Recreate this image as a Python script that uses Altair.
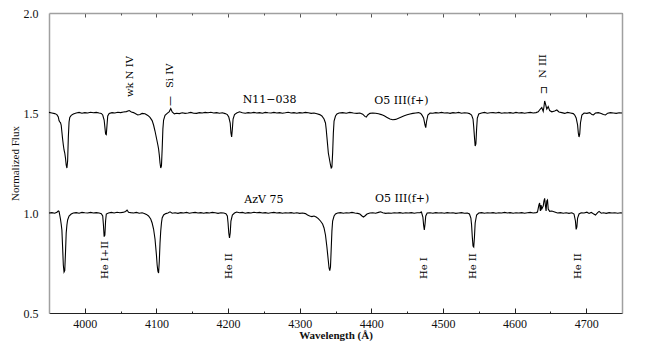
import altair as alt
import pandas as pd

# ---- N11-038 spectrum (offset continuum 1.5) ----
top_wl = [3950, 3954, 3958, 3961, 3963, 3964, 3965, 3966, 3967, 3968, 3969, 3970, 3971, 3972, 3973, 3974, 3975, 3976, 3977, 3978, 3979, 3981, 3984, 3988, 3992, 3996,
          4000, 4004, 4008, 4012, 4016, 4020, 4023, 4025, 4027, 4028, 4029, 4030, 4031, 4032, 4034, 4038, 4042, 4046, 4050, 4054, 4058, 4062, 4065, 4068, 4071, 4074, 4077, 4080, 4084, 4088, 4091, 4094, 4096, 4098,
          4100, 4102, 4103, 4104, 4105, 4106, 4107, 4108, 4109, 4110, 4112, 4115, 4118, 4120, 4122, 4125, 4128, 4132, 4136, 4140, 4144, 4148, 4152, 4156, 4160, 4164, 4168, 4172, 4176, 4180, 4184, 4188, 4192, 4196, 4199,
          4201, 4203, 4204, 4205, 4206, 4207, 4209, 4212, 4216, 4220, 4224, 4228, 4232, 4236, 4240, 4244, 4248, 4252, 4256, 4260, 4264, 4268, 4272, 4276, 4280, 4284, 4288, 4292, 4296,
          4300, 4304, 4308, 4312, 4316, 4320, 4324, 4328, 4331, 4334, 4336, 4337, 4338, 4339, 4340, 4341, 4342, 4343, 4344, 4345, 4346, 4347, 4348, 4350, 4352, 4355, 4360, 4365, 4370, 4375, 4380, 4384, 4388, 4391, 4393, 4395, 4398,
          4402, 4406, 4410, 4414, 4418, 4422, 4426, 4430, 4434, 4438, 4442, 4446, 4450, 4454, 4458, 4462, 4466, 4469, 4471, 4473, 4475, 4476, 4477, 4479, 4482, 4486, 4490, 4494, 4498,
          4502, 4506, 4510, 4514, 4518, 4522, 4526, 4530, 4534, 4537, 4540, 4542, 4543, 4544, 4545, 4546, 4547, 4548, 4550, 4554, 4558, 4562, 4566, 4570, 4574, 4578, 4582, 4586, 4590, 4594, 4598,
          4602, 4606, 4610, 4614, 4618, 4622, 4626, 4630, 4633, 4636, 4638, 4640, 4641, 4642, 4643, 4645, 4647, 4649, 4652, 4656, 4659, 4662, 4666, 4670, 4674, 4678, 4682, 4684, 4686, 4688, 4689, 4690, 4691, 4692, 4694, 4697,
          4701, 4705, 4708, 4710, 4713, 4717, 4721, 4724, 4727, 4730, 4734, 4738, 4742, 4746, 4750]
top_flux = [1.503, 1.500, 1.497, 1.492, 1.480, 1.462, 1.455, 1.452, 1.440, 1.405, 1.370, 1.340, 1.315, 1.300, 1.275, 1.240, 1.225, 1.260, 1.380, 1.455, 1.478, 1.488, 1.495, 1.500, 1.503, 1.499,
            1.502, 1.500, 1.504, 1.501, 1.503, 1.500, 1.498, 1.490, 1.465, 1.430, 1.395, 1.392, 1.440, 1.485, 1.498, 1.502, 1.500, 1.504, 1.502, 1.505, 1.507, 1.512, 1.505, 1.502, 1.496, 1.490, 1.492, 1.498, 1.496, 1.488, 1.478, 1.462, 1.440, 1.410,
            1.375, 1.340, 1.320, 1.290, 1.250, 1.225, 1.235, 1.320, 1.420, 1.465, 1.488, 1.498, 1.507, 1.522, 1.505, 1.496, 1.499, 1.497, 1.501, 1.498, 1.500, 1.503, 1.499, 1.498, 1.502, 1.500, 1.503, 1.501, 1.504, 1.500, 1.502, 1.499, 1.501, 1.497, 1.492,
            1.480, 1.450, 1.400, 1.380, 1.420, 1.470, 1.492, 1.500, 1.506, 1.501, 1.499, 1.502, 1.500, 1.503, 1.500, 1.502, 1.499, 1.503, 1.501, 1.500, 1.503, 1.500, 1.502, 1.499, 1.501, 1.504, 1.500, 1.502, 1.499,
            1.502, 1.500, 1.503, 1.501, 1.498, 1.500, 1.496, 1.492, 1.485, 1.470, 1.450, 1.420, 1.380, 1.340, 1.300, 1.280, 1.260, 1.240, 1.225, 1.230, 1.300, 1.400, 1.460, 1.485, 1.495, 1.500, 1.502, 1.499, 1.503, 1.500, 1.498, 1.500, 1.494, 1.483, 1.480, 1.490, 1.498,
            1.500, 1.499, 1.496, 1.492, 1.486, 1.478, 1.470, 1.466, 1.468, 1.474, 1.480, 1.486, 1.491, 1.495, 1.498, 1.500, 1.502, 1.498, 1.488, 1.475, 1.440, 1.427, 1.455, 1.490, 1.500, 1.499, 1.502, 1.500, 1.503,
            1.500, 1.501, 1.498, 1.502, 1.500, 1.503, 1.499, 1.501, 1.500, 1.497, 1.490, 1.470, 1.430, 1.380, 1.335, 1.345, 1.420, 1.475, 1.495, 1.500, 1.503, 1.499, 1.501, 1.502, 1.500, 1.503, 1.499, 1.501, 1.500, 1.502, 1.499,
            1.503, 1.500, 1.502, 1.499, 1.501, 1.503, 1.500, 1.502, 1.506, 1.520, 1.527, 1.508, 1.530, 1.560, 1.548, 1.520, 1.532, 1.512, 1.506, 1.510, 1.515, 1.505, 1.502, 1.498, 1.503, 1.500, 1.497, 1.490, 1.475, 1.440, 1.400, 1.380, 1.395, 1.450, 1.490, 1.500,
            1.498, 1.502, 1.492, 1.490, 1.500, 1.502, 1.498, 1.492, 1.490, 1.499, 1.502, 1.500, 1.498, 1.501, 1.500]

# ---- AzV 75 spectrum (continuum 1.0) ----
bot_wl = [3950, 3954, 3958, 3961, 3963, 3964, 3965, 3966, 3967, 3968, 3969, 3970, 3971, 3972, 3973, 3974, 3975, 3976, 3978, 3981, 3984, 3988, 3992, 3996,
          4000, 4004, 4008, 4012, 4016, 4020, 4023, 4025, 4026, 4027, 4028, 4029, 4030, 4033, 4037, 4041, 4045, 4049, 4053, 4057, 4059, 4061, 4064, 4068, 4072, 4076, 4080, 4083, 4086, 4089, 4092, 4094, 4096, 4098,
          4100, 4101, 4102, 4103, 4104, 4105, 4106, 4107, 4108, 4110, 4113, 4116, 4119, 4122, 4126, 4130, 4134, 4138, 4142, 4146, 4150, 4154, 4158, 4162, 4166, 4170, 4174, 4178, 4182, 4186, 4190, 4194, 4197, 4199,
          4200, 4201, 4202, 4203, 4204, 4206, 4209, 4212, 4216, 4220, 4224, 4228, 4232, 4236, 4240, 4244, 4248, 4252, 4256, 4260, 4264, 4268, 4272, 4276, 4280, 4284, 4288, 4292, 4296,
          4300, 4304, 4308, 4311, 4314, 4317, 4320, 4323, 4326, 4329, 4332, 4334, 4336, 4338, 4340, 4341, 4342, 4343, 4344, 4345, 4346, 4348, 4350, 4353, 4357, 4361, 4365, 4369, 4373, 4377, 4381, 4384, 4387, 4389, 4391, 4394, 4398,
          4402, 4406, 4410, 4413, 4416, 4420, 4424, 4428, 4432, 4436, 4440, 4444, 4448, 4452, 4456, 4460, 4464, 4468, 4470, 4472, 4473, 4474, 4475, 4476, 4478, 4482, 4486, 4490, 4494, 4498,
          4502, 4506, 4510, 4514, 4518, 4522, 4526, 4530, 4534, 4537, 4539, 4540, 4541, 4542, 4543, 4544, 4545, 4547, 4550, 4554, 4558, 4562, 4566, 4570, 4574, 4578, 4582, 4586, 4590, 4594, 4598,
          4602, 4606, 4610, 4614, 4618, 4622, 4626, 4630, 4632, 4634, 4635, 4636, 4637, 4638, 4640, 4641, 4642, 4643, 4644, 4645, 4646, 4647, 4649, 4652, 4656, 4660, 4664, 4668, 4672, 4676, 4680, 4683, 4685, 4686, 4687, 4688, 4690, 4693, 4697,
          4701, 4704, 4707, 4710, 4713, 4716, 4718, 4721, 4724, 4728, 4732, 4736, 4740, 4744, 4748, 4750]
bot_flux = [1.000, 1.002, 0.999, 1.004, 1.010, 1.008, 0.990, 0.970, 0.945, 0.915, 0.830, 0.740, 0.705, 0.712, 0.800, 0.900, 0.940, 0.965, 0.985, 0.995, 1.000, 1.002, 0.999, 1.003,
            1.001, 1.000, 1.003, 1.000, 1.002, 1.000, 0.997, 0.985, 0.940, 0.882, 0.890, 0.960, 0.995, 1.000, 1.003, 1.000, 1.004, 1.001, 1.003, 1.008, 1.015, 1.004, 1.002, 1.000, 1.003, 0.999, 1.001, 0.998, 0.993, 0.985, 0.970, 0.950, 0.920, 0.870,
            0.790, 0.740, 0.710, 0.700, 0.760, 0.850, 0.910, 0.950, 0.975, 0.990, 0.997, 1.000, 1.006, 0.999, 1.001, 0.998, 1.002, 1.000, 1.003, 0.999, 1.001, 1.003, 1.000, 1.002, 0.999, 1.002, 1.000, 1.003, 1.001, 0.998, 1.001, 1.000, 0.997, 0.985,
            0.950, 0.900, 0.875, 0.900, 0.960, 0.990, 1.000, 1.005, 1.001, 1.003, 0.999, 1.002, 1.000, 1.004, 1.001, 1.003, 1.000, 1.002, 0.999, 1.001, 1.003, 1.000, 1.002, 0.999, 1.001, 1.000, 1.002, 0.999, 1.001,
            0.998, 1.000, 0.997, 0.990, 0.985, 0.982, 0.985, 0.980, 0.972, 0.960, 0.945, 0.925, 0.890, 0.830, 0.760, 0.725, 0.712, 0.730, 0.820, 0.910, 0.960, 0.985, 0.995, 1.000, 1.002, 0.999, 1.001, 1.000, 1.003, 1.000, 0.998, 0.995, 0.985, 0.980, 0.985, 0.995, 1.000,
            1.001, 0.999, 1.003, 1.006, 1.001, 0.998, 1.000, 0.999, 1.001, 1.000, 1.002, 0.999, 1.001, 1.000, 1.002, 0.999, 1.001, 1.002, 1.005, 0.980, 0.940, 0.915, 0.945, 0.985, 1.000, 1.001, 0.999, 1.002, 1.000, 1.001,
            0.999, 1.002, 1.000, 1.001, 0.998, 1.000, 1.002, 0.999, 1.000, 0.995, 0.975, 0.940, 0.880, 0.835, 0.830, 0.880, 0.950, 0.990, 1.000, 1.002, 0.999, 1.001, 1.000, 1.002, 0.999, 1.001, 1.000, 1.003, 1.000, 1.002, 0.999,
            1.001, 1.000, 1.002, 0.999, 1.001, 1.003, 1.000, 1.002, 1.005, 1.040, 1.050, 1.010, 1.040, 1.020, 1.035, 1.060, 1.073, 1.040, 1.010, 1.060, 1.065, 1.020, 1.008, 1.010, 1.005, 1.000, 1.002, 0.999, 1.001, 0.998, 1.001, 0.995, 0.960, 0.918, 0.930, 0.975, 0.995, 1.001, 1.000,
            1.004, 0.998, 1.003, 0.996, 0.990, 1.002, 1.008, 0.999, 1.001, 0.998, 1.002, 1.000, 1.001, 0.999, 1.001, 1.000]

# ---- annotations ----
name_text = ["N11\u2212038", "O5  III(f+)", "AzV  75", "O5  III(f+)"]
name_wl = [4258, 4442, 4250, 4443]
name_flux = [1.565, 1.56, 1.065, 1.07]

line_text = ["wk  N IV", "Si IV", "N III", "He I+II", "He II", "He I", "He II", "He II"]
line_wl = [4063, 4119, 4640, 4028, 4201, 4474, 4542, 4689]
line_flux = [1.58, 1.625, 1.675, 0.67, 0.67, 0.67, 0.67, 0.67]

mark_text = ["\u2014", "\u2293"]
mark_wl = [4119, 4641]
mark_flux = [1.56, 1.615]
mark_angle = [270, 0]

major_ticks = [4000, 4100, 4200, 4300, 4400, 4500, 4600, 4700]
minor_ticks = [4050, 4150, 4250, 4350, 4450, 4550, 4650, 4750]
y_ticks = [0.5, 1.0, 1.5, 2.0]

spec = pd.DataFrame({
    "wl": top_wl + bot_wl,
    "flux": top_flux + bot_flux,
    "star": ["N11-038"] * len(top_wl) + ["AzV 75"] * len(bot_wl),
})
names = pd.DataFrame({"wl": name_wl, "flux": name_flux, "t": name_text})
lines = pd.DataFrame({"wl": line_wl, "flux": line_flux, "t": line_text})
marks = pd.DataFrame({"wl": mark_wl, "flux": mark_flux, "t": mark_text, "a": mark_angle})

XDOM = [3950, 4750]
YDOM = [0.5, 2.0]
FONT = "Liberation Serif"
H = 300
GRAY = "#a0a0a0"

xs = alt.Scale(domain=XDOM, nice=False, zero=False)
ys = alt.Scale(domain=YDOM, nice=False, zero=False)

main_x = alt.X("wl:Q", scale=xs, axis=alt.Axis(
    orient="bottom", values=major_ticks, format="d", ticks=False,
    domainColor="#222222", domainWidth=1.2, labelPadding=5,
    labelFont=FONT, labelFontSize=12, labelColor="#111111",
    title="Wavelength (\u00c5)", titleFont=FONT, titleFontSize=11,
    titleFontWeight="bold", titlePadding=0, titleColor="#111111", grid=False))
main_y = alt.Y("flux:Q", scale=ys, axis=alt.Axis(
    orient="left", values=y_ticks, format=".1f", ticks=False, domain=True,
    domainColor=GRAY, domainWidth=1.5,
    labelPadding=11, labelFont=FONT, labelFontSize=12, labelColor="#111111",
    title="Normalized Flux", titleFont=FONT, titleFontSize=11, titleFontWeight="normal",
    titleColor="#111111", titleX=-34, titleY=150, titleAngle=270,
    titleAlign="center", titleBaseline="middle", grid=False))

spectra = alt.Chart(spec).mark_line(color="black", strokeWidth=1.1, interpolate="linear").encode(
    x=main_x, y=main_y, detail="star:N", order="wl:Q")


def tick_layer(vals, size, orient, offset, color, domain=False):
    return alt.Chart(spec).mark_point(opacity=0, size=1).encode(
        x=alt.X("wl:Q", scale=xs, axis=alt.Axis(
            orient=orient, values=vals, labels=False, domain=domain, domainColor=GRAY,
            domainWidth=1.5, title=None,
            ticks=True, tickSize=size, tickColor=color, tickWidth=1, offset=offset, grid=False)),
        y=alt.Y("flux:Q", scale=ys, axis=None))


t_bot_major = tick_layer(major_ticks, 5, "top", -H, "#222222")
t_bot_minor = tick_layer(minor_ticks, 2, "top", -H, "#222222")
t_top_major = tick_layer(major_ticks, 4, "bottom", -H, "#555555", domain=True)
t_top_minor = tick_layer(minor_ticks, 2, "bottom", -H, "#555555")

right_edge = alt.Chart(spec).mark_point(opacity=0, size=1).encode(
    x=alt.X("wl:Q", scale=xs, axis=None),
    y=alt.Y("flux:Q", scale=ys, axis=alt.Axis(
        orient="right", values=y_ticks, labels=False, ticks=False, title=None,
        domain=True, domainColor=GRAY, domainWidth=1.5, grid=False)))

name_layer = alt.Chart(names).mark_text(font="DejaVu Serif", fontSize=11, color="black",
                                         align="center", baseline="middle").encode(
    x=alt.X("wl:Q", scale=xs, axis=None), y=alt.Y("flux:Q", scale=ys, axis=None), text="t:N")

line_layer = alt.Chart(lines).mark_text(font="DejaVu Serif", fontSize=10, color="black",
                                         align="left", baseline="middle", angle=270).encode(
    x=alt.X("wl:Q", scale=xs, axis=None), y=alt.Y("flux:Q", scale=ys, axis=None), text="t:N")

mark_layer = alt.Chart(marks).mark_text(font="DejaVu Sans", fontSize=10, color="black",
                                         align="center", baseline="middle").encode(
    x=alt.X("wl:Q", scale=xs, axis=None), y=alt.Y("flux:Q", scale=ys, axis=None), text="t:N",
    angle=alt.Angle("a:Q", scale=None))

chart = alt.layer(
    spectra, t_bot_major, t_bot_minor, t_top_major, t_top_minor, right_edge,
    name_layer, line_layer, mark_layer,
).resolve_axis(x="independent", y="independent").properties(
    width=573, height=H,
    autosize=alt.AutoSizeParams(type="none"),
    padding={"left": 41, "top": 5, "right": 24, "bottom": 28},
    background="white",
).configure_view(stroke=None)

chart.save("out.html", embed_options={"renderer": "svg", "actions": False})
